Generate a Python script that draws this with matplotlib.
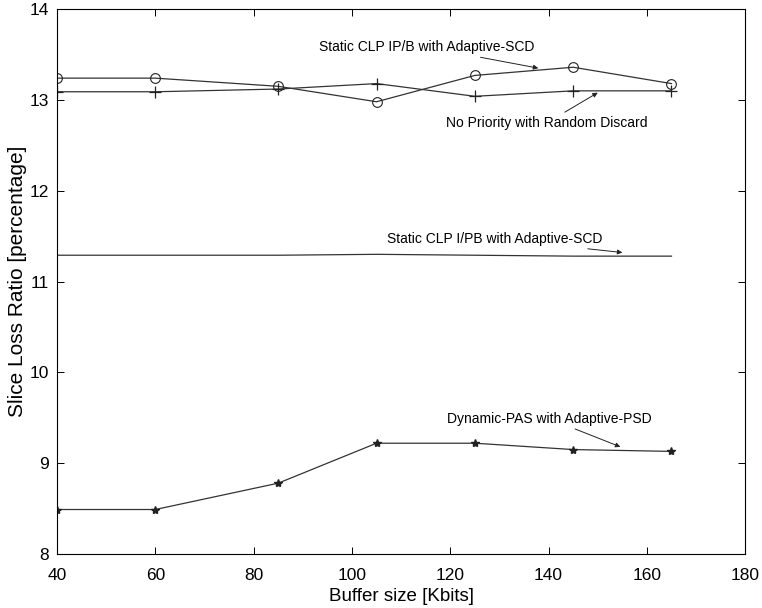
import matplotlib
matplotlib.use("Agg")
import matplotlib.pyplot as plt

# Buffer sizes (Kbits) and slice loss ratios (%)
buffer_size = [40, 60, 85, 105, 125, 145, 165]
static_ipb = [13.24, 13.24, 13.15, 12.98, 13.27, 13.36, 13.18]
no_priority = [13.09, 13.09, 13.12, 13.18, 13.04, 13.10, 13.10]
static_ipb2 = [11.29, 11.29, 11.29, 11.30, 11.29, 11.28, 11.28]
dynamic_pas = [8.49, 8.49, 8.78, 9.22, 9.22, 9.15, 9.13]

x_ticks = [40, 60, 80, 100, 120, 140, 160, 180]
y_ticks = [8, 9, 10, 11, 12, 13, 14]

plt.rcParams['font.family'] = ['Liberation Sans', 'DejaVu Sans']

fig = plt.figure(figsize=(7.62, 6.08), dpi=100)
ax = fig.add_axes([0.0748, 0.0888, 0.9032, 0.8962])

line_kw = dict(color='#333333', linewidth=0.9)
ax.plot(buffer_size, static_ipb, marker='o', markersize=7, markerfacecolor='none',
        markeredgecolor='#222222', markeredgewidth=0.8, **line_kw)
ax.plot(buffer_size, no_priority, marker='+', markersize=8,
        markeredgecolor='#222222', markeredgewidth=0.9, **line_kw)
ax.plot(buffer_size, static_ipb2, **line_kw)
ax.plot(buffer_size, dynamic_pas, marker='*', markersize=6,
        markeredgecolor='#222222', markerfacecolor='#222222', **line_kw)

ax.set_xlim(40, 180)
ax.set_ylim(8, 14)
ax.set_xticks(x_ticks)
ax.set_yticks(y_ticks)
ax.tick_params(direction='in', top=True, right=True, labelsize=12.5, length=5, width=0.7)
ax.tick_params(axis='x', pad=10)
ax.tick_params(axis='y', pad=6)
for s in ax.spines.values():
    s.set_linewidth(0.8)

ax.set_xlabel('Buffer size [Kbits]', fontsize=13.5, labelpad=4)
ax.set_ylabel('Slice Loss Ratio [percentage]', fontsize=15, labelpad=2)

arrow = dict(arrowstyle='-|>', color='#222222', linewidth=0.7, mutation_scale=7,
             shrinkA=1, shrinkB=0)
ann_fs = 10
ax.annotate('Static CLP IP/B with Adaptive-SCD', xy=(137.9, 13.35), xytext=(115.3, 13.58),
            ha='center', va='center', fontsize=ann_fs, arrowprops=arrow)
ax.annotate('No Priority with Random Discard', xy=(150, 13.08), xytext=(139.7, 12.75),
            ha='center', va='center', fontsize=ann_fs, arrowprops=arrow)
ax.annotate('Static CLP I/PB with Adaptive-SCD', xy=(155, 11.32), xytext=(129.1, 11.47),
            ha='center', va='center', fontsize=ann_fs, arrowprops=arrow)
ax.annotate('Dynamic-PAS with Adaptive-PSD', xy=(154.6, 9.18), xytext=(140.1, 9.49),
            ha='center', va='center', fontsize=ann_fs, arrowprops=arrow)

fig.savefig('out.png', dpi=100)
